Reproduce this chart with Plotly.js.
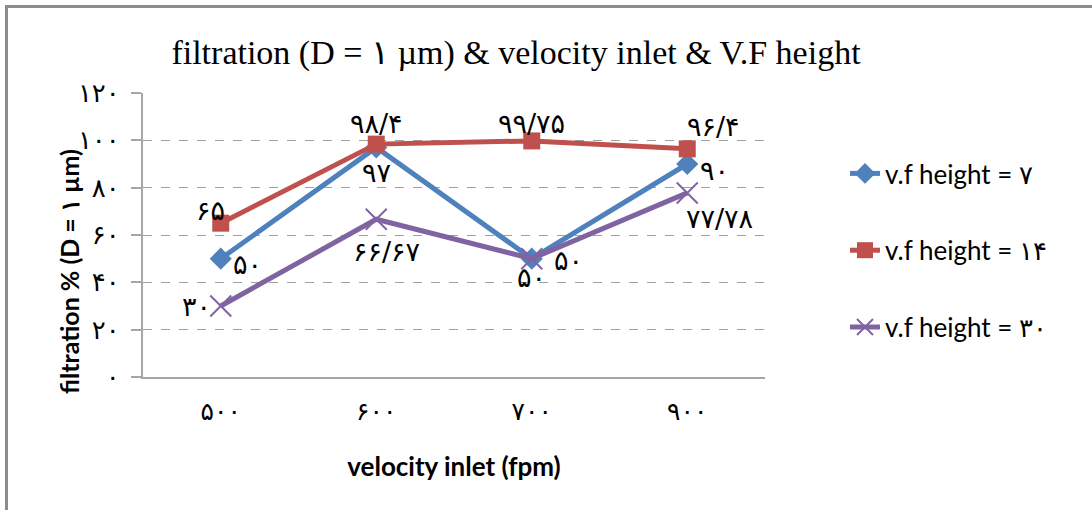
<!DOCTYPE html>
<html>
<head>
<meta charset="utf-8">
<script src="https://cdn.plot.ly/plotly-3.0.1.min.js"></script>
<style>html,body{margin:0;padding:0;background:#fff;}#chart{width:1092px;height:510px;}</style>
</head>
<body>
<div id="chart"></div>
<script>
// ---- data ----
var categories = ['۵۰۰', '۶۰۰', '۷۰۰', '۹۰۰'];
var seriesNames = ['v.f height = ۷', 'v.f height = ۱۴', 'v.f height = ۳۰'];
var height7 = [50, 97, 50, 90];
var height14 = [65, 98.4, 99.75, 96.4];
var height30 = [30, 66.67, 50, 77.78];
var labels7 = ['۵۰', '۹۷', '۵۰', '۹۰'];
var labels14 = ['۶۵', '۹۸/۴', '۹۹/۷۵', '۹۶/۴'];
var labels30 = ['۳۰', '۶۶/۶۷', '۵۰', '۷۷/۷۸'];
var yTickVals = [0, 20, 40, 60, 80, 100, 120];
var yTickText = ['۰', '۲۰', '۴۰', '۶۰', '۸۰', '۱۰۰', '۱۲۰'];

// ---- styles ----
var colors = ['#4F81BD', '#C0504D', '#8064A2'];
var offsets7 = [[27, 6], [0, 25], [37, 2], [27, 6]];
var offsets14 = [[-10, -13], [0, -21], [0, -17], [26, -22]];
var offsets30 = [[-24, 0], [10, 32], [0, 19], [32, 26]];

var traces = [
  {x: categories, y: height7, name: seriesNames[0], legendgroup: 'a', type: 'scatter', mode: 'lines+markers',
   line: {color: colors[0], width: 5}, marker: {symbol: 'diamond', size: 17, color: colors[0]}},
  {x: categories, y: height14, name: seriesNames[1], legendgroup: 'b', type: 'scatter', mode: 'lines+markers',
   line: {color: colors[1], width: 5}, marker: {symbol: 'square', size: 17, color: colors[1]}},
  {x: categories, y: height30, name: seriesNames[2], legendgroup: 'c', type: 'scatter', mode: 'lines+markers',
   line: {color: colors[2], width: 5}, marker: {symbol: 'x-thin-open', size: 21, color: colors[2], line: {color: colors[2], width: 2}}}
];

var annotations = [];
function addLabels(vals, labs, offs) {
  for (var i = 0; i < vals.length; i++) {
    annotations.push({x: categories[i], y: vals[i], xref: 'x', yref: 'y', text: labs[i], showarrow: false,
      xshift: offs[i][0], yshift: -offs[i][1], font: {family: 'DejaVu Sans', size: 27, color: '#000'}});
  }
}
addLabels(height7, labels7, offsets7);
addLabels(height14, labels14, offsets14);
addLabels(height30, labels30, offsets30);

annotations.push({xref: 'paper', yref: 'paper', x: (52 - 143) / 622, y: (377 - 272) / 284, text: '<b>filtration % (D = ۱ µm)</b>',
  textangle: -90, showarrow: false, font: {family: 'Lato', size: 25, color: '#000'}});

var layout = {
  width: 1092, height: 510,
  margin: {l: 143, r: 327, t: 93, b: 133},
  paper_bgcolor: '#fff', plot_bgcolor: '#fff',
  title: {text: 'filtration (D = ۱ µm) & velocity inlet & V.F height', font: {family: 'Liberation Serif', size: 34, color: '#000'},
    x: 516 / 1092, xref: 'container', xanchor: 'center', y: 1 - 52 / 510, yref: 'container', yanchor: 'middle'},
  xaxis: {type: 'category', range: [-0.5, 3.5], showgrid: false, showline: true, linecolor: '#a6a6a6', linewidth: 2, ticks: '',
    tickfont: {family: 'DejaVu Sans', size: 25, color: '#000'}, ticklabelstandoff: 11,
    title: {text: '<b>velocity inlet (fpm)</b>', font: {family: 'Lato', size: 26, color: '#000'}, standoff: 33}},
  yaxis: {range: [0, 120], tickvals: yTickVals, ticktext: yTickText, showgrid: true, gridcolor: '#a0a0a0', griddash: 'dash', gridwidth: 1,
    zeroline: false, showline: true, linecolor: '#a6a6a6', linewidth: 2, ticks: 'outside', ticklen: 10, tickcolor: '#a6a6a6', tickwidth: 2,
    tickfont: {family: 'DejaVu Sans', size: 26, color: '#000'}, ticklabelstandoff: 6},
  legend: {x: (845 - 143) / 622, y: (377 - 150) / 284, xanchor: 'left', yanchor: 'top', tracegroupgap: 40,
    font: {family: 'Lato', size: 26, color: '#000'}, bgcolor: 'rgba(0,0,0,0)'},
  annotations: annotations,
  shapes: [
    {type: 'line', xref: 'paper', yref: 'paper', x0: (5 - 143) / 622, x1: (1092 - 143) / 622, y0: (377 - 6.5) / 284, y1: (377 - 6.5) / 284, line: {color: '#8c8c8c', width: 3}},
    {type: 'line', xref: 'paper', yref: 'paper', x0: (6.5 - 143) / 622, x1: (6.5 - 143) / 622, y0: (377 - 5) / 284, y1: (377 - 512) / 284, line: {color: '#8c8c8c', width: 3}}
  ],
  showlegend: true
};

Plotly.newPlot('chart', traces, layout, {displayModeBar: false, staticPlot: true});
</script>
</body>
</html>
